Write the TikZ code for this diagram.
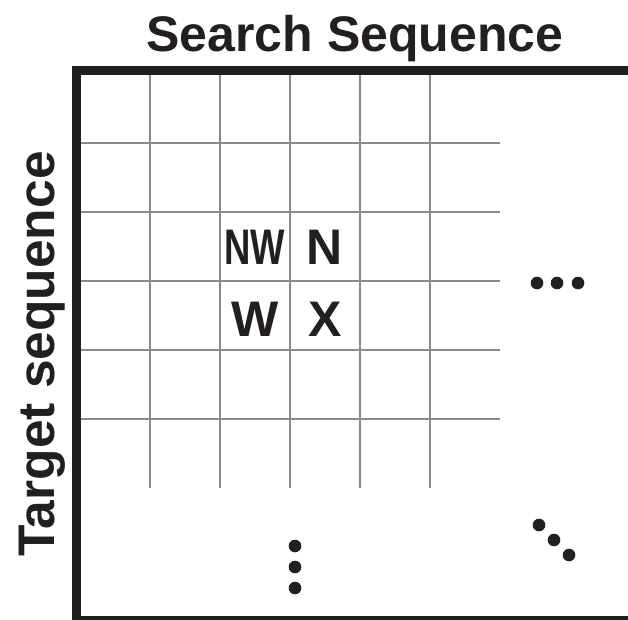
\documentclass[tikz,border=0pt]{standalone}
\usepackage{fontspec}
\setmainfont{Liberation Sans}
\usepackage{tikz}
\definecolor{ink}{RGB}{35,31,32}

\begin{document}
\begin{tikzpicture}[x=1pt, y=-1pt,
  label/.style={font=\fontsize{50}{60}\selectfont\bfseries, text=ink, inner sep=0pt, anchor=base},
  gridline/.style={draw=black!46, line width=2pt},
  frame/.style={draw=ink, line width=9pt, line join=miter}]
  \useasboundingbox (0,0) rectangle (628,619);
  % grid
  \foreach \y in {143,212,281,350,419}
    \draw[gridline] (81,\y) -- (500,\y);
  \foreach \x in {150,220,290,360,430}
    \draw[gridline] (\x,75) -- (\x,488);
  % frame
  \draw[frame] (640,70.5) -- (76.5,70.5) -- (76.5,620.5) -- (640,620.5);
  % labels
  \node[label] (title) at (355,51) {Search Sequence};
  \node[label, rotate=90, font=\fontsize{51.5}{60}\selectfont\bfseries] (target) at (54,354) {Target sequence};
  \node[label] (nw) at (255,264) {\scalebox{0.73}[1]{NW}};
  \node[label] (n) at (325,264) {N};
  \node[label] (w) at (255,336) {W};
  \node[label] (x) at (325,336) {X};
  % dots
  \fill[ink] (537,283) circle (6.3pt) (557,283) circle (6.3pt) (578,283) circle (6.3pt);
  \fill[ink] (295,546) circle (6.3pt) (295,567) circle (6.3pt) (295,588) circle (6.3pt);
  \fill[ink] (539,525) circle (6.3pt) (554,540) circle (6.3pt) (569,555) circle (6.3pt);
\end{tikzpicture}
\end{document}
